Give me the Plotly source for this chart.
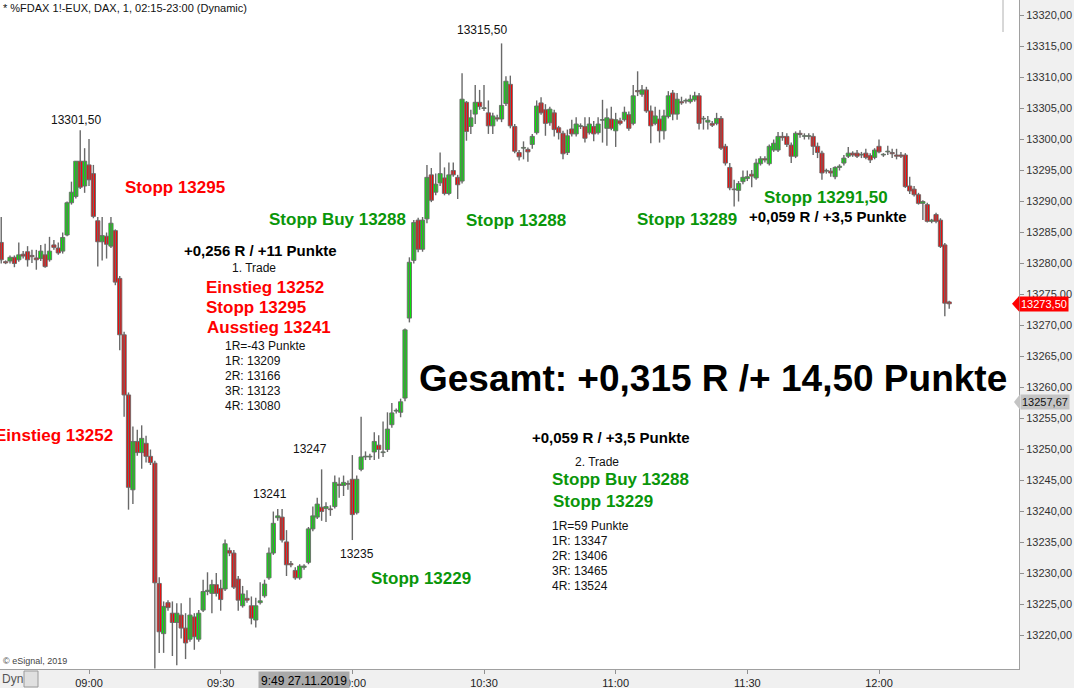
import plotly.graph_objects as go
import pandas as pd

# ---------------- data (1-minute FDAX candles, 27.11.2019) ----------------
start_time = "2019-11-27 08:40"
opens = [13283.4,13280.3,13280.4,13281.0,13280.6,13281.5,13281.9,13281.3,13280.9,13280.8,
         13281.4,13280.6,13283.0,13282.5,13282.0,13284.6,13289.8,13290.8,13296.5,13292.5,
         13295.9,13294.5,13286.9,13283.5,13284.4,13282.8,13285.3,13277.6,13268.5,13258.8,
         13243.5,13251.3,13249.5,13251.0,13248.9,13247.8,13228.4,13220.3,13225.3,13223.6,
         13222.1,13223.3,13221.2,13219.4,13223.0,13219.4,13224.1,13227.1,13226.8,13228.2,
         13227.6,13227.5,13233.7,13233.3,13229.1,13224.8,13226.0,13224.8,13222.5,13225.3,
         13226.4,13229.3,13233.3,13239.0,13239.1,13235.1,13231.6,13230.5,13229.3,13231.0,
         13231.8,13237.2,13239.1,13240.7,13240.5,13240.4,13240.8,13244.4,13244.2,13244.5,
         13245.2,13239.8,13246.8,13248.8,13248.8,13249.6,13250.7,13249.5,13250.0,13254.0,
         13256.2,13256.0,13258.3,13271.2,13280.5,13287.0,13282.3,13287.2,13294.3,13291.5,
         13293.0,13293.8,13291.3,13295.0,13293.9,13293.3,13306.0,13302.1,13304.1,13306.0,
         13305.0,13304.3,13302.2,13303.5,13303.3,13305.8,13308.9,13302.1,13297.9,13298.6,
         13298.4,13299.2,13301.1,13305.9,13304.8,13302.7,13304.3,13301.9,13301.0,13297.9,
         13301.7,13300.9,13302.1,13302.1,13301.1,13302.1,13301.1,13303.1,13301.8,13303.3,
         13301.4,13303.0,13303.2,13304.0,13302.6,13307.9,13307.3,13308.0,13304.6,13302.6,
         13303.3,13301.4,13303.7,13307.5,13304.1,13306.1,13306.2,13306.1,13306.4,13307.05,
         13303.3,13302.8,13302.6,13302.6,13303.4,13298.9,13295.5,13292.0,13291.8,13293.2,
         13293.7,13294.4,13293.8,13296.1,13296.9,13296.1,13298.3,13298.3,13300.5,13300.5,
         13299.1,13297.3,13301.0,13300.5,13300.5,13300.5,13298.9,13297.8,13294.9,13294.9,
         13294.0,13295.5,13296.2,13297.3,13297.8,13297.8,13297.5,13297.8,13297.4,13297.1,
         13298.9,13297.5,13298.0,13297.9,13297.5,13297.5,13297.5,13292.5,13292.0,13291.1,
         13289.7,13289.5,13286.8,13287.9,13287.0,13283.0,13273.8]
highs = [13287.5,13280.5,13281.3,13281.3,13283.4,13282.0,13282.8,13282.2,13282.2,13283.0,
         13283.2,13284.3,13283.8,13283.4,13285.0,13290.0,13293.2,13296.5,13301.5,13298.6,
         13300.1,13295.9,13287.5,13287.5,13285.0,13287.5,13285.5,13278.0,13269.0,13259.2,
         13253.7,13253.2,13253.9,13252.2,13250.0,13248.2,13229.4,13225.5,13225.7,13225.5,
         13225.2,13225.2,13223.6,13226.1,13223.6,13224.1,13229.0,13230.2,13229.0,13230.1,
         13229.0,13235.5,13234.2,13233.8,13229.6,13228.0,13227.3,13226.3,13226.1,13228.6,
         13229.0,13234.2,13240.0,13240.4,13240.4,13237.0,13232.0,13231.0,13231.5,13231.5,
         13237.5,13240.8,13242.2,13246.8,13241.5,13241.0,13245.8,13245.5,13245.8,13245.0,
         13249.1,13245.8,13255.3,13249.7,13249.3,13252.8,13252.3,13254.5,13256.0,13257.5,
         13256.6,13258.2,13269.5,13281.0,13287.0,13287.4,13287.5,13295.9,13295.4,13294.5,
         13297.9,13295.5,13296.3,13296.3,13294.3,13310.7,13306.2,13304.8,13308.8,13308.0,
         13308.8,13306.3,13304.3,13304.0,13315.5,13310.2,13310.3,13302.5,13298.3,13299.7,
         13298.7,13300.9,13306.3,13306.8,13305.7,13305.3,13304.8,13302.2,13301.4,13301.6,
         13303.2,13303.6,13302.6,13303.6,13303.6,13303.0,13303.6,13306.4,13305.0,13305.3,
         13304.3,13303.5,13305.3,13304.5,13308.8,13311.0,13308.8,13308.5,13305.5,13305.3,
         13304.8,13304.8,13307.8,13308.0,13307.5,13306.9,13306.6,13307.2,13307.7,13307.5,
         13303.8,13303.8,13303.0,13304.3,13303.8,13299.3,13296.2,13293.5,13293.3,13295.0,
         13295.0,13295.1,13296.9,13297.3,13297.3,13299.2,13300.0,13301.2,13301.2,13301.0,
         13299.5,13301.3,13301.5,13301.0,13301.0,13301.0,13299.5,13298.2,13295.3,13295.4,
         13295.7,13296.0,13297.5,13298.8,13298.1,13298.3,13298.0,13298.5,13297.8,13298.6,
         13300.0,13297.8,13299.0,13298.5,13298.5,13298.0,13297.8,13294.0,13292.5,13291.4,
         13290.2,13289.8,13287.2,13288.2,13287.3,13283.3,13274.0]
lows = [13280.0,13279.9,13280.0,13279.4,13280.3,13280.8,13279.5,13280.1,13279.0,13280.4,
        13279.3,13280.3,13282.2,13281.4,13281.6,13284.4,13289.5,13290.5,13292.0,13291.4,
        13292.5,13287.3,13279.5,13280.5,13280.8,13282.5,13276.5,13266.0,13255.3,13240.3,
        13241.2,13249.0,13246.9,13247.9,13247.5,13214.7,13217.2,13217.2,13224.0,13216.7,
        13215.2,13219.5,13216.2,13219.0,13217.7,13219.0,13223.8,13226.5,13223.6,13226.3,
        13224.0,13227.2,13232.8,13227.5,13224.0,13224.5,13225.3,13221.8,13221.3,13225.0,
        13226.1,13229.0,13233.0,13238.5,13235.0,13229.6,13231.0,13229.0,13229.0,13230.6,
        13231.5,13236.8,13238.8,13238.5,13238.3,13239.3,13240.5,13242.2,13242.5,13243.5,
        13235.4,13239.5,13246.5,13248.3,13248.3,13248.3,13248.5,13248.8,13249.6,13253.5,
        13255.8,13255.2,13257.8,13270.5,13280.0,13281.8,13281.9,13286.5,13289.9,13291.0,
        13292.5,13291.0,13291.0,13294.0,13290.4,13292.9,13299.8,13300.9,13302.5,13304.8,
        13304.6,13300.9,13300.9,13302.9,13302.8,13305.4,13301.8,13297.8,13296.6,13296.8,
        13296.4,13298.5,13300.8,13304.0,13300.6,13302.2,13300.5,13300.0,13296.8,13297.5,
        13300.5,13300.5,13301.7,13299.5,13300.8,13299.7,13300.8,13299.5,13299.0,13301.5,
        13298.8,13302.3,13302.9,13301.4,13302.3,13307.0,13306.9,13304.3,13299.4,13302.3,
        13299.5,13300.0,13303.4,13303.1,13303.2,13305.6,13305.8,13305.8,13306.1,13301.6,
        13301.6,13301.6,13302.0,13302.3,13298.3,13295.8,13291.8,13289.2,13290.0,13292.8,
        13293.3,13292.3,13293.5,13295.8,13296.3,13295.8,13298.0,13298.0,13299.8,13298.8,
        13296.2,13297.0,13300.3,13300.0,13300.0,13297.5,13297.0,13293.5,13294.5,13294.0,
        13293.6,13295.0,13295.8,13297.0,13297.2,13297.0,13297.0,13296.8,13296.2,13296.8,
        13297.8,13297.2,13297.5,13297.0,13296.8,13297.0,13292.2,13291.2,13290.8,13289.5,
        13287.0,13286.6,13286.5,13286.5,13282.5,13271.5,13272.7]
closes = [13280.6,13280.1,13281.0,13280.0,13281.4,13281.2,13280.6,13281.1,13280.6,13282.0,
          13279.5,13282.0,13282.6,13281.7,13284.2,13289.8,13291.5,13296.5,13292.3,13296.5,
          13293.5,13287.6,13283.5,13284.5,13283.1,13286.5,13277.0,13268.5,13258.8,13243.9,
          13251.3,13249.5,13251.8,13248.9,13247.9,13228.5,13220.6,13224.7,13224.5,13222.1,
          13223.6,13221.2,13218.8,13223.3,13219.8,13223.6,13227.1,13227.3,13228.2,13226.8,
          13225.8,13234.8,13233.3,13227.8,13225.7,13226.7,13225.7,13222.8,13224.8,13225.6,
          13228.3,13233.3,13238.1,13239.3,13235.4,13231.4,13231.4,13229.3,13231.2,13231.2,
          13237.2,13239.3,13241.2,13240.0,13240.8,13240.3,13244.7,13244.2,13244.7,13244.4,
          13239.5,13245.2,13248.8,13248.8,13248.9,13251.3,13250.0,13249.6,13253.3,13255.9,
          13256.3,13257.7,13269.3,13280.2,13286.6,13282.3,13287.0,13293.9,13290.2,13292.8,
          13294.5,13291.3,13294.3,13294.3,13292.7,13306.5,13301.3,13303.5,13306.0,13305.3,
          13305.0,13302.2,13303.8,13303.3,13305.5,13309.4,13302.2,13298.1,13297.2,13298.6,
          13298.0,13300.5,13305.4,13304.3,13302.6,13304.9,13301.6,13301.1,13297.7,13300.6,
          13300.9,13302.5,13302.1,13300.2,13302.5,13300.9,13302.5,13303.2,13303.5,13301.8,
          13303.2,13302.6,13304.4,13301.8,13307.05,13307.7,13308.0,13304.6,13302.2,13303.8,
          13301.4,13303.8,13307.05,13304.1,13306.5,13305.9,13306.3,13306.5,13307.05,13302.6,
          13303.3,13303.1,13302.3,13303.4,13298.6,13296.2,13292.2,13291.9,13292.9,13293.9,
          13294.0,13294.1,13296.2,13296.9,13296.7,13298.9,13299.4,13300.5,13300.3,13299.2,
          13297.3,13301.0,13300.8,13300.5,13300.5,13298.9,13297.9,13294.6,13294.9,13294.6,
          13295.5,13295.7,13297.0,13297.8,13297.5,13297.3,13297.5,13297.1,13296.7,13298.3,
          13298.0,13297.5,13298.0,13297.7,13297.3,13297.3,13292.4,13291.7,13291.1,13289.7,
          13290.0,13286.8,13287.0,13286.8,13282.75,13273.6,13273.5]

y_ticks = [13220 + 5 * k for k in range(21)]
y_tick_labels = [f"{v:.2f}".replace(".", ",") for v in y_ticks]
x_tick_times = ["09:00", "09:30", "10:00", "10:30", "11:00", "11:30", "12:00"]
last_price = 13273.50
indicator_value = 13257.67

times = pd.date_range(start_time, periods=len(opens), freq="min")

# ---------------- layout geometry ----------------
W, H = 1074, 688
ML, MR, MT, MB = 0, 55, 0, 19
PW, PH = W - ML - MR, H - MT - MB
FONT = "Arial, Liberation Sans, sans-serif"
GREEN_TXT = "#0a960a"
UP_FILL, DOWN_FILL, EDGE = "#00f000", "#ff0000", "#696969"


def px(xp):
    return xp / PW


def py(yp):
    return 1 - yp / PH


fig = go.Figure()

# wicks (high-low) drawn as one broken line
wick_x, wick_y = [], []
for t, lo, hi in zip(times, lows, highs):
    wick_x += [t, t, None]
    wick_y += [lo, hi, None]
fig.add_trace(go.Scatter(x=wick_x, y=wick_y, mode="lines",
                         line=dict(color=EDGE, width=1.4), hoverinfo="skip",
                         showlegend=False))

# bodies (open-close) as floating bars
body_base = [min(o, c) for o, c in zip(opens, closes)]
body_len = [max(abs(c - o), 0.12) for o, c in zip(opens, closes)]
body_col = [UP_FILL if c >= o else DOWN_FILL for o, c in zip(opens, closes)]
fig.add_trace(go.Bar(x=times, y=body_len, base=body_base, width=0.96 * 60000,
                     marker=dict(color=body_col, line=dict(color=EDGE, width=0.9)),
                     opacity=1, hoverinfo="skip", showlegend=False))

x0 = pd.Timestamp("2019-11-27 09:00") - pd.Timedelta(minutes=20.28)
x1 = pd.Timestamp("2019-11-27 09:00") + pd.Timedelta(minutes=211.9)
fig.update_xaxes(
    range=[x0, x1],
    tickvals=[pd.Timestamp("2019-11-27 " + t) for t in x_tick_times],
    ticktext=x_tick_times, ticks="outside", ticklen=4, tickcolor="#909090",
    showline=True, linecolor="#a0a0a0", linewidth=1, showgrid=False, zeroline=False,
    tickfont=dict(family=FONT, size=11, color="#222"),
)
fig.update_yaxes(
    range=[13214.6, 13322.5], side="right",
    tickvals=y_ticks, ticktext=y_tick_labels, ticks="outside", ticklen=4,
    tickcolor="#909090", showline=True, linecolor="#a0a0a0", linewidth=1,
    showgrid=False, zeroline=False,
    tickfont=dict(family=FONT, size=11, color="#333"),
)

styles = {
    "red": dict(family=FONT, size=17, color="#ff0000", weight="bold"),
    "green": dict(family=FONT, size=17, color=GREEN_TXT, weight="bold"),
    "blk": dict(family=FONT, size=15, color="#000000", weight="bold"),
    "norm": dict(family=FONT, size=12, color="#111111"),
    "big": dict(family=FONT, size=37, color="#000000", weight="bold"),
    "small": dict(family=FONT, size=9, color="#444444"),
    "title": dict(family=FONT, size=11, color="#111111"),
}

labels = [
    ("Stopp 13295", 175, 187, "red", "center"),
    ("Stopp Buy 13288", 337.5, 219, "green", "center"),
    ("Stopp 13288", 516, 220, "green", "center"),
    ("Stopp 13289", 687, 219, "green", "center"),
    ("Stopp 13291,50", 825.5, 198, "green", "center"),
    ("+0,059 R / +3,5 Punkte", 827.5, 216, "blk", "center"),
    ("+0,256 R / +11 Punkte", 260, 250, "blk", "center"),
    ("1. Trade", 253.5, 268, "norm", "center"),
    ("Einstieg 13252", 264.5, 287, "red", "center"),
    ("Stopp 13295", 256, 308, "red", "center"),
    ("Ausstieg 13241", 269, 327, "red", "center"),
    ("1R=-43 Punkte", 224, 346, "norm", "left"),
    ("1R: 13209", 224, 361, "norm", "left"),
    ("2R: 13166", 224, 376, "norm", "left"),
    ("3R: 13123", 224, 391, "norm", "left"),
    ("4R: 13080", 224, 406, "norm", "left"),
    ("Gesamt: +0,315 R /+ 14,50 Punkte", 712.5, 378, "big", "center"),
    ("Einstieg 13252", 54, 435, "red", "center"),
    ("+0,059 R / +3,5 Punkte", 610.5, 437, "blk", "center"),
    ("2. Trade", 596.5, 462, "norm", "center"),
    ("Stopp Buy 13288", 620.5, 479, "green", "center"),
    ("Stopp 13229", 603, 501, "green", "center"),
    ("1R=59 Punkte", 551, 526, "norm", "left"),
    ("1R: 13347", 551, 541, "norm", "left"),
    ("2R: 13406", 551, 556, "norm", "left"),
    ("3R: 13465", 551, 571, "norm", "left"),
    ("4R: 13524", 551, 586, "norm", "left"),
    ("Stopp 13229", 421, 578, "green", "center"),
    ("13301,50", 76, 120, "norm", "center"),
    ("13315,50", 482, 30, "norm", "center"),
    ("13247", 309.5, 449, "norm", "center"),
    ("13241", 270, 494, "norm", "center"),
    ("13235", 357, 554, "norm", "center"),
    ("© eSignal, 2019", 2, 661, "small", "left"),
    ("* %FDAX 1!-EUX, DAX, 1, 02:15-23:00 (Dynamic)", 2, 8, "title", "left"),
]
for text, xp, yp, st, anc in labels:
    fig.add_annotation(text=text, x=px(xp), y=py(yp), xref="paper", yref="paper",
                       xanchor=anc, yanchor="middle", showarrow=False,
                       font=styles[st], borderpad=0)


# right-axis price markers
def price_marker(value, bg, fg, tip_px, box_left_px):
    yv = value
    fig.add_shape(type="path", xref="paper", yref="y",
                  path=f"M {px(tip_px)} {yv} L {px(box_left_px)} {yv + 1.25} "
                       f"L {px(box_left_px)} {yv - 1.25} Z",
                  fillcolor=bg, line=dict(width=0), layer="above")
    fig.add_annotation(text=f"{value:.2f}".replace(".", ","), x=px(box_left_px), y=yv,
                       xref="paper", yref="y", xanchor="left", yanchor="middle",
                       showarrow=False, bgcolor=bg, borderpad=1,
                       font=dict(family=FONT, size=11, color=fg))


price_marker(last_price, "#ff0000", "#ffffff", 1012, 1019)
price_marker(indicator_value, "#c4c4c4", "#111111", 1014, 1020)

# small separator at the top right of the chart pane
fig.add_shape(type="line", xref="paper", yref="paper", x0=px(1003), x1=px(1003),
              y0=py(0), y1=py(32), line=dict(color="#b0b0b0", width=1))

# crosshair time label on the x axis
fig.add_annotation(text="9:49 27.11.2019", x=pd.Timestamp("2019-11-27 09:49"), y=py(681),
                   xref="x", yref="paper", xanchor="center", yanchor="middle",
                   showarrow=False, bgcolor="#a9a9a9", borderpad=2,
                   font=dict(family=FONT, size=12, color="#000"))

# "Dyn" and lock box at lower-left
fig.add_annotation(text="Dyn", x=px(0), y=py(679), xref="paper", yref="paper",
                   xanchor="left", yanchor="middle", showarrow=False,
                   font=dict(family=FONT, size=12, color="#555"))
fig.add_shape(type="rect", xref="paper", yref="paper",
              x0=px(24), x1=px(38), y0=py(687), y1=py(671),
              line=dict(color="#9a9a9a", width=1), fillcolor="#e0e0e0")

fig.update_layout(
    width=W, height=H, margin=dict(l=ML, r=MR, t=MT, b=MB),
    paper_bgcolor="#f0f0f0", plot_bgcolor="#ffffff",
    showlegend=False, hovermode=False,
    font=dict(family=FONT),
)

fig.write_html("out.html", config={"displayModeBar": False, "staticPlot": True},
               post_script="document.body.style.margin='0';document.body.style.overflow='hidden';")
